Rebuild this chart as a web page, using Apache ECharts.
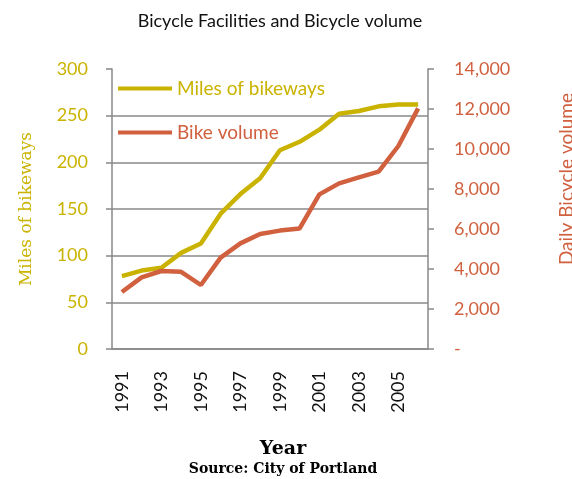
<!DOCTYPE html>
<html lang='en'>
  <head>
    <meta charset='utf-8'>
    <title>Bicycle Facilities and Bicycle volume</title>
  </head>
  <body style="margin:0">
    <div id="main" style="width:572px;height:479px;"></div>
    <script src="https://cdn.jsdelivr.net/npm/echarts@6/dist/echarts.min.js"></script>
    <script>
      // data
      var years = ['1991', '1992', '1993', '1994', '1995', '1996', '1997', '1998',
                   '1999', '2000', '2001', '2002', '2003', '2004', '2005', '2006'];
      var milesOfBikeways = [78, 84, 87, 103, 113, 145, 166, 183, 213, 222, 235, 252, 255, 260, 262, 262];
      var bikeVolume = [2850, 3580, 3900, 3860, 3200, 4570, 5280, 5750, 5920, 6030, 7730, 8280, 8580, 8870, 10150, 12030];

      var yellow = '#CAB300';
      var red = '#D1603F';
      var grey = '#888888';
      var sans = 'Lato';
      var serif = 'DejaVu Serif';

      var myChart = echarts.init(document.getElementById('main'));

      var option = {
        backgroundColor: '#fff',
        animation: false,
        title: [{
          text: 'Bicycle Facilities and Bicycle volume',
          left: 275,
          top: 7,
          textAlign: 'center',
          textStyle: { fontFamily: sans, fontSize: 18, fontWeight: 'normal', color: '#111' }
        }, {
          text: 'Year',
          subtext: 'Source: City of Portland',
          left: 278,
          top: 435,
          textAlign: 'center',
          itemGap: 3,
          textStyle: { fontFamily: serif, fontSize: 19, fontWeight: 'bold', color: '#000' },
          subtextStyle: { fontFamily: serif, fontSize: 14, fontWeight: 'bold', color: '#000' }
        }],
        legend: {
          orient: 'vertical',
          left: 113,
          top: 74,
          itemWidth: 54,
          itemHeight: 4,
          itemGap: 25,
          icon: 'rect',
          textStyle: { fontFamily: sans, fontSize: 19 },
          data: [
            { name: 'Miles of bikeways', textStyle: { color: yellow } },
            { name: 'Bike volume', textStyle: { color: red } }
          ]
        },
        grid: {
          left: 112,
          right: 144,
          top: 69,
          bottom: 130
        },
        xAxis: {
          type: 'category',
          data: years,
          boundaryGap: true,
          axisLine: { lineStyle: { color: grey, width: 1.5 } },
          axisTick: { interval: 1, length: 6, lineStyle: { color: grey, width: 1.5 } },
          axisLabel: {
            interval: 1,
            rotate: 90,
            margin: 22,
            fontFamily: sans,
            fontSize: 18,
            color: '#111'
          }
        },
        yAxis: [{
          type: 'value',
          min: 0,
          max: 300,
          interval: 50,
          position: 'left',
          name: 'Miles of bikeways',
          nameLocation: 'middle',
          nameGap: 77,
          nameTextStyle: { fontFamily: serif, fontSize: 17, fontWeight: 500, color: yellow },
          axisLine: { show: true, lineStyle: { color: grey, width: 1.5 } },
          axisTick: { show: true, length: 6, lineStyle: { color: grey, width: 1.5 } },
          axisLabel: { margin: 24, fontFamily: sans, fontSize: 18, color: yellow },
          splitLine: { show: true, showMaxLine: false, lineStyle: { color: grey, width: 1.5 } }
        }, {
          type: 'value',
          min: 0,
          max: 14000,
          interval: 2000,
          position: 'right',
          axisLine: { show: true, lineStyle: { color: grey, width: 1.5 } },
          axisTick: { show: true, length: 6, lineStyle: { color: grey, width: 1.5 } },
          axisLabel: {
            margin: 26,
            fontFamily: sans,
            fontSize: 18,
            color: red,
            formatter: function (v) {
              return v === 0 ? '-' : v.toLocaleString('en-US');
            }
          },
          splitLine: { show: false }
        }],
        graphic: [{
          type: 'text',
          left: 557,
          top: 93,
          rotation: Math.PI / 2,
          style: {
            text: 'Daily Bicycle volume',
            fontFamily: sans,
            fontSize: 19,
            fill: red
          }
        }],
        series: [{
          name: 'Miles of bikeways',
          type: 'line',
          yAxisIndex: 0,
          data: milesOfBikeways,
          symbol: 'none',
          color: yellow,
          lineStyle: { width: 4.5, color: yellow }
        }, {
          name: 'Bike volume',
          type: 'line',
          yAxisIndex: 1,
          data: bikeVolume,
          symbol: 'none',
          color: red,
          lineStyle: { width: 4.5, color: red }
        }]
      };

      myChart.setOption(option);
    </script>
  </body>
</html>
